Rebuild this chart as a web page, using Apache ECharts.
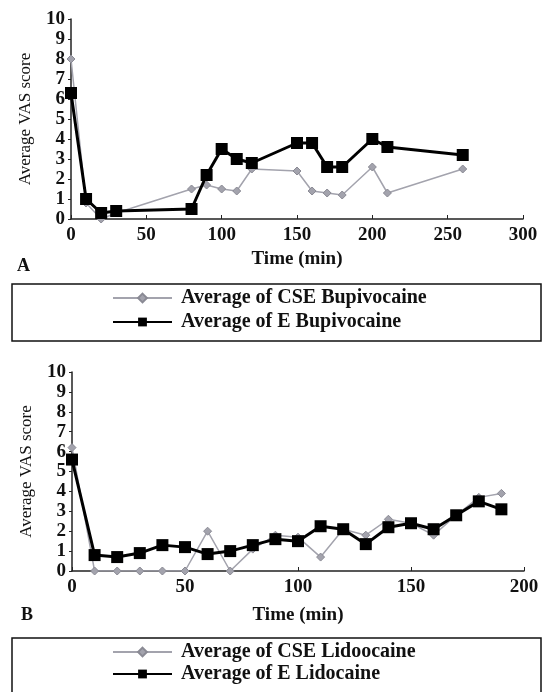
<!DOCTYPE html>
<html>
<head>
<meta charset="utf-8">
<script src="https://cdn.jsdelivr.net/npm/echarts@6/dist/echarts.min.js"></script>
<style>
  html, body { margin: 0; padding: 0; background: #fff; }
  #chart { width: 546px; height: 692px; }
</style>
</head>
<body>
<div id="chart"></div>
<script>
// panel A - bupivacaine, time in minutes
var timeA = [0, 10, 20, 30, 80, 90, 100, 110, 120, 150, 160, 170, 180, 200, 210, 260];
var cseBupi = [8.0, 0.8, 0.0, 0.3, 1.5, 1.7, 1.5, 1.4, 2.5, 2.4, 1.4, 1.3, 1.2, 2.6, 1.3, 2.5];
var eBupi = [6.3, 1.0, 0.3, 0.4, 0.5, 2.2, 3.5, 3.0, 2.8, 3.8, 3.8, 2.6, 2.6, 4.0, 3.6, 3.2];

// panel B - lidocaine
var timeB = [0, 10, 20, 30, 40, 50, 60, 70, 80, 90, 100, 110, 120, 130, 140, 150, 160, 170, 180, 190];
var cseLido = [6.2, 0, 0, 0, 0, 0, 2.0, 0, 1.1, 1.8, 1.7, 0.7, 2.1, 1.8, 2.6, 2.4, 1.8, 2.8, 3.7, 3.9];
var eLido = [5.6, 0.8, 0.7, 0.9, 1.3, 1.2, 0.85, 1.0, 1.3, 1.6, 1.5, 2.25, 2.1, 1.35, 2.2, 2.4, 2.1, 2.8, 3.5, 3.1];

var serif = '"Liberation Serif", "DejaVu Serif", serif';

function pairs(xs, ys) {
  return xs.map(function (x, i) { return [x, ys[i]]; });
}

function xAx(idx, max, gap) {
  return {
    type: 'value', gridIndex: idx, min: 0, max: max, interval: 50,
    name: 'Time (min)', nameLocation: 'middle', nameGap: gap,
    nameTextStyle: { fontFamily: serif, fontWeight: 'bold', fontSize: 19, color: '#111' },
    axisLine: { lineStyle: { color: '#222', width: 1.5 } },
    axisTick: { inside: true, length: 4, lineStyle: { color: '#222' } },
    axisLabel: { fontFamily: serif, fontWeight: 'bold', fontSize: 19, color: '#111', margin: 7 },
    splitLine: { show: false }
  };
}

function yAx(idx) {
  return {
    type: 'value', gridIndex: idx, min: 0, max: 10, interval: 1,
    name: 'Average VAS score', nameLocation: 'middle', nameGap: 37,
    nameTextStyle: { fontFamily: serif, fontSize: 17, color: '#111' },
    axisLine: { show: true, lineStyle: { color: '#222', width: 1.5 } },
    axisTick: { show: true, length: 3, lineStyle: { color: '#222' } },
    axisLabel: { fontFamily: serif, fontWeight: 'bold', fontSize: 19, color: '#111', margin: 6 },
    splitLine: { show: false }
  };
}

var grayStyle = {
  type: 'line', symbol: 'diamond', symbolSize: 8, showSymbol: true,
  lineStyle: { color: '#a3a3ad', width: 1.5 },
  itemStyle: { color: '#a3a3ad', borderColor: '#8a8a94', borderWidth: 1 },
  emphasis: { disabled: true }, z: 2
};
var blackStyle = {
  type: 'line', symbol: 'rect', symbolSize: 12, showSymbol: true,
  lineStyle: { color: '#000', width: 3 },
  itemStyle: { color: '#000' },
  emphasis: { disabled: true }, z: 3
};

var legendText = { fontFamily: serif, fontWeight: 'bold', fontSize: 20, color: '#111', padding: [0, 0, 0, 4] };

var chart = echarts.init(document.getElementById('chart'));
chart.setOption({
  animation: false,
  backgroundColor: '#fff',
  grid: [
    { left: 71, top: 19, width: 452, height: 200 },
    { left: 72, top: 372, width: 452, height: 199 }
  ],
  xAxis: [xAx(0, 300, 31), xAx(1, 200, 35)],
  yAxis: [yAx(0), yAx(1)],
  legend: [
    {
      data: ['Average of CSE Bupivocaine', 'Average of E Bupivocaine'],
      orient: 'vertical', left: 112, top: 288, padding: 0, itemGap: 4, itemWidth: 59, itemHeight: 11,
      textStyle: legendText
    },
    {
      data: ['Average of CSE Lidoocaine', 'Average of E Lidocaine'],
      orient: 'vertical', left: 112, top: 642, padding: 0, itemGap: 2, itemWidth: 59, itemHeight: 11,
      textStyle: legendText
    }
  ],
  graphic: [
    { type: 'rect', shape: { x: 12, y: 284, width: 529, height: 57 },
      style: { fill: 'none', stroke: '#111', lineWidth: 1.5 } },
    { type: 'rect', shape: { x: 12, y: 638, width: 529, height: 70 },
      style: { fill: 'none', stroke: '#111', lineWidth: 1.5 } },
    { type: 'text', left: 17, top: 257,
      style: { text: 'A', font: 'bold 18px ' + serif, fill: '#111' } },
    { type: 'text', left: 21, top: 606,
      style: { text: 'B', font: 'bold 18px ' + serif, fill: '#111' } }
  ],
  series: [
    Object.assign({ name: 'Average of CSE Bupivocaine', xAxisIndex: 0, yAxisIndex: 0, data: pairs(timeA, cseBupi) }, grayStyle),
    Object.assign({ name: 'Average of E Bupivocaine', xAxisIndex: 0, yAxisIndex: 0, data: pairs(timeA, eBupi) }, blackStyle),
    Object.assign({ name: 'Average of CSE Lidoocaine', xAxisIndex: 1, yAxisIndex: 1, data: pairs(timeB, cseLido) }, grayStyle),
    Object.assign({ name: 'Average of E Lidocaine', xAxisIndex: 1, yAxisIndex: 1, data: pairs(timeB, eLido) }, blackStyle)
  ]
});
</script>
</body>
</html>
